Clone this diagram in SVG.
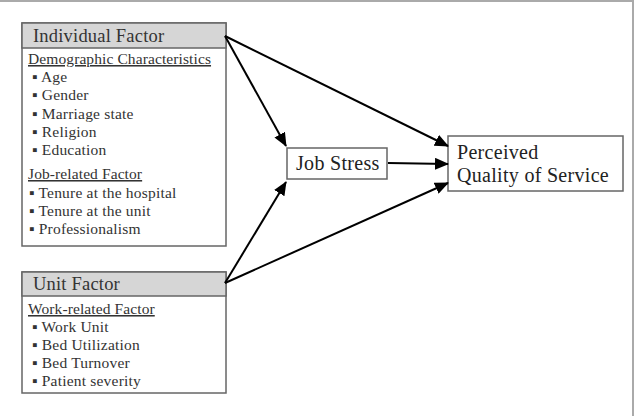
<svg xmlns="http://www.w3.org/2000/svg" width="638" height="416" viewBox="0 0 638 416">
<style>
text{font-family:"Liberation Serif","DejaVu Serif",serif;fill:#333}
.hd{font-size:18.5px;letter-spacing:0.2px}
.sub{font-size:15.5px;text-decoration:underline;letter-spacing:0.1px}
.it{font-size:15.5px;letter-spacing:0.2px}
.big{font-size:20px;fill:#222;letter-spacing:0.3px}
.box{fill:#fff;stroke:#666;stroke-width:1.5}
.head{fill:#d6d6d6;stroke:#666;stroke-width:1.5}
.conn line{stroke:#000;stroke-width:2;marker-end:url(#ah)}
</style>
<defs>
<marker id="ah" markerWidth="14" markerHeight="12" refX="13" refY="6" orient="auto" markerUnits="userSpaceOnUse">
<path d="M0,0 L14,6 L0,12 Z" fill="#000"/>
</marker>
</defs>
<rect width="638" height="416" fill="#fff"/>
<line x1="0" y1="1" x2="634" y2="1" stroke="#aaa" stroke-width="2"/>
<line x1="633" y1="0" x2="633" y2="416" stroke="#aaa" stroke-width="2"/>

<g id="individual">
<rect class="box" x="22" y="23" width="204" height="223"/>
<rect class="head" x="22" y="23" width="204" height="25"/>
<text class="hd" x="33" y="42">Individual Factor</text>
<text class="sub" x="28" y="64">Demographic Characteristics</text>
<text class="it" x="32" y="82">▪ Age</text>
<text class="it" x="32" y="100">▪ Gender</text>
<text class="it" x="32" y="119">▪ Marriage state</text>
<text class="it" x="32" y="137">▪ Religion</text>
<text class="it" x="32" y="155">▪ Education</text>
<text class="sub" x="28" y="179">Job-related Factor</text>
<text class="it" x="29" y="198">▪ Tenure at the hospital</text>
<text class="it" x="29" y="216">▪ Tenure at the unit</text>
<text class="it" x="29" y="234">▪ Professionalism</text>
</g>

<g id="unit">
<rect class="box" x="22" y="272" width="204" height="121"/>
<rect class="head" x="22" y="272" width="204" height="24"/>
<text class="hd" x="33" y="290">Unit Factor</text>
<text class="sub" x="28" y="314">Work-related Factor</text>
<text class="it" x="32" y="332">▪ Work Unit</text>
<text class="it" x="32" y="350">▪ Bed Utilization</text>
<text class="it" x="32" y="368">▪ Bed Turnover</text>
<text class="it" x="32" y="386">▪ Patient severity</text>
</g>

<g id="jobstress">
<rect class="box" x="287" y="148" width="100" height="31"/>
<text class="big" x="296" y="170">Job Stress</text>
</g>

<g id="quality">
<rect class="box" x="448" y="136" width="175" height="55"/>
<text class="big" x="457" y="159">Perceived</text>
<text class="big" x="457" y="182">Quality of Service</text>
</g>

<g class="conn">
<line x1="225" y1="36" x2="286" y2="146"/>
<line x1="225" y1="36" x2="448" y2="146"/>
<line x1="225" y1="283" x2="286" y2="182"/>
<line x1="225" y1="283" x2="448" y2="183"/>
<line x1="388" y1="163" x2="448" y2="164"/>
</g>
</svg>
